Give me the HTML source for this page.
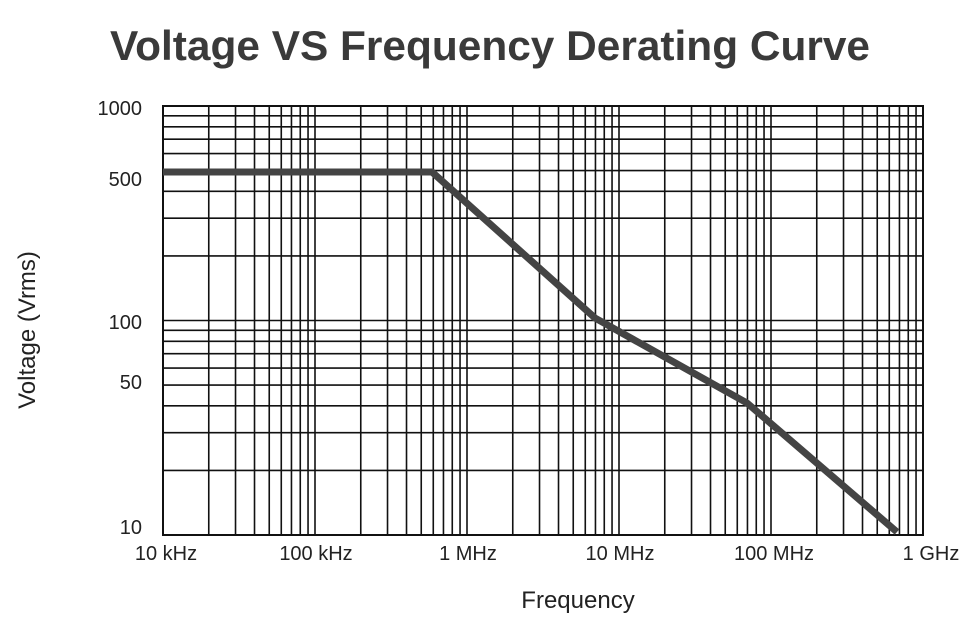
<!DOCTYPE html>
<html><head><style>
body{margin:0;background:#fff;}
svg text{font-family:"Liberation Sans",sans-serif;fill:#222;}
</style></head><body>
<svg width="978" height="626" xmlns="http://www.w3.org/2000/svg">
<rect width="978" height="626" fill="#fff"/>
<text x="490" y="60" text-anchor="middle" font-size="42" font-weight="bold" textLength="760" lengthAdjust="spacingAndGlyphs" style="fill:#3a3a3a">Voltage VS Frequency Derating Curve</text>
<g id="g" stroke="#111" stroke-width="1.6"></g>
<rect x="163" y="106" width="760" height="429" fill="none" stroke="#111" stroke-width="2"/>
<polyline points="163,172 432,172 595,318 747,403 897,532" fill="none" stroke="#444" stroke-width="7" stroke-linejoin="round"/>
<g font-size="20" text-anchor="end">
<text x="142" y="115">1000</text>
<text x="142" y="186">500</text>
<text x="142" y="329">100</text>
<text x="142" y="389">50</text>
<text x="142" y="534">10</text>
</g>
<g font-size="20" text-anchor="middle">
<text x="166" y="560">10 kHz</text>
<text x="316" y="560">100 kHz</text>
<text x="468" y="560">1 MHz</text>
<text x="620" y="560">10 MHz</text>
<text x="774" y="560">100 MHz</text>
<text x="931" y="560">1 GHz</text>
</g>
<text x="578" y="608" font-size="24" text-anchor="middle">Frequency</text>
<text transform="translate(35,330) rotate(-90)" font-size="24" text-anchor="middle">Voltage (Vrms)</text>
</svg>
<script>
var g=document.getElementById('g'),s='';
var x0=163,dx=152,y0=535,dy=214.5;
for(var d=0;d<5;d++)for(var k=2;k<=10;k++){var x=x0+dx*(d+Math.log10(k));if(x<922)s+='<line x1="'+x+'" y1="106" x2="'+x+'" y2="535"/>';}
for(var d=0;d<2;d++)for(var k=2;k<=10;k++){var y=y0-dy*(d+Math.log10(k));if(y>107)s+='<line x1="163" y1="'+y+'" x2="923" y2="'+y+'"/>';}
g.innerHTML=s;
</script>
</body></html>
